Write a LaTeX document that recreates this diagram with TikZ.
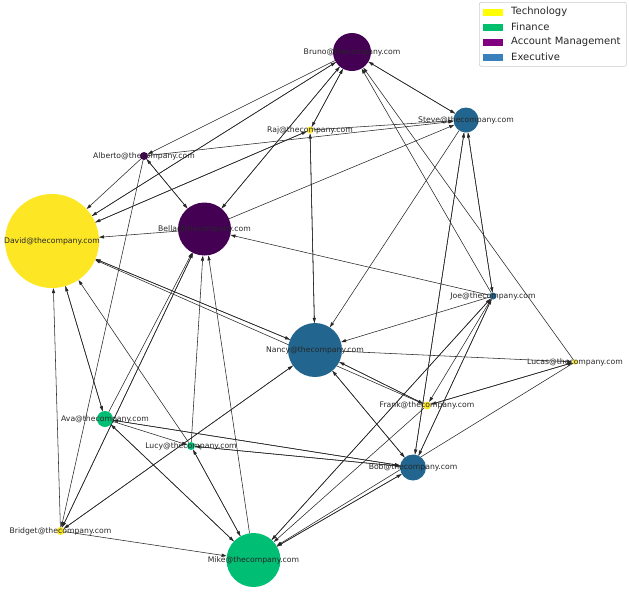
\documentclass[tikz,border=0pt]{standalone}
\usepackage{fontspec}
\newfontfamily\lblfont{DejaVu Sans}
\usetikzlibrary{arrows.meta}
\pgfdeclarelayer{bg}
\pgfsetlayers{bg,main}
\definecolor{techN}{HTML}{FDE725}
\definecolor{finN}{HTML}{00BE73}
\definecolor{acctN}{HTML}{440154}
\definecolor{execN}{HTML}{22668F}
\definecolor{techL}{HTML}{FFFF00}
\definecolor{finL}{HTML}{00BF6C}
\definecolor{acctL}{HTML}{800080}
\definecolor{execL}{HTML}{3A80BD}
\tikzset{
  vn/.style={circle, inner sep=0pt, draw=none, minimum size=#1},
  arr/.style={-{Triangle[length=5pt,width=3.2pt]}, line width=0.55pt, draw=black!85},
  lab/.style={font=\lblfont\fontsize{7.7}{9}\selectfont, text=black!85, inner sep=0pt},
  legtxt/.style={font=\lblfont\fontsize{10}{12}\selectfont, text=black!85, anchor=west, inner sep=0pt},
  legpatch/.style={minimum width=20pt, minimum height=7pt, inner sep=0pt, draw=none}
}
\begin{document}
\begin{tikzpicture}[x=1pt,y=-1pt]
\useasboundingbox (0,0) rectangle (629,595);
% nodes
\node[vn=94pt, fill=techN] (david) at (52,241) {};
\node[vn=38pt, fill=acctN] (bruno) at (352,52) {};
\node[vn=7pt, fill=techN] (raj) at (310,130) {};
\node[vn=25pt, fill=execN] (steve) at (466,120) {};
\node[vn=8pt, fill=acctN] (alberto) at (144,156) {};
\node[vn=53pt, fill=acctN] (bella) at (204.5,229) {};
\node[vn=7pt, fill=execN] (joe) at (493,296) {};
\node[vn=54pt, fill=execN] (nancy) at (315,350) {};
\node[vn=5pt, fill=techN] (lucas) at (575,362) {};
\node[vn=8pt, fill=techN] (frank) at (427,405.5) {};
\node[vn=16pt, fill=finN] (ava) at (105,419) {};
\node[vn=8pt, fill=finN] (lucy) at (191,446) {};
\node[vn=26pt, fill=execN] (bob) at (413,467.5) {};
\node[vn=8pt, fill=techN] (bridget) at (60.5,531) {};
\node[vn=54pt, fill=finN] (mike) at (253.5,560) {};
% edges
\begin{pgfonlayer}{bg}
\draw[arr] (bruno) -- (alberto);
\draw[arr] (david) -- (bruno);
\draw[arr] (bruno) -- (david);
\draw[arr] (bruno) -- (bella);
\draw[arr] (bella) -- (bruno);
\draw[arr] (bruno) -- (raj);
\draw[arr] (raj) -- (bruno);
\draw[arr] (bruno) -- (steve);
\draw[arr] (steve) -- (bruno);
\draw[arr] (joe) -- (bruno);
\draw[arr] (lucas) -- (bruno);
\draw[arr] (alberto) -- (steve);
\draw[arr] (alberto) -- (david);
\draw[arr] (alberto) -- (bella);
\draw[arr] (bella) -- (alberto);
\draw[arr] (alberto) -- (bridget);
\draw[arr] (raj) -- (david);
\draw[arr] (david) -- (raj);
\draw[arr] (raj) -- (steve);
\draw[arr] (raj) -- (nancy);
\draw[arr] (nancy) -- (raj);
\draw[arr] (bella) -- (david);
\draw[arr] (bella) -- (steve);
\draw[arr] (joe) -- (bella);
\draw[arr] (bridget) -- (david);
\draw[arr] (ava) -- (david);
\draw[arr] (david) -- (ava);
\draw[arr] (lucy) -- (david);
\draw[arr] (ava) -- (bella);
\draw[arr] (bridget) -- (bella);
\draw[arr] (bella) -- (bridget);
\draw[arr] (lucy) -- (bella);
\draw[arr] (mike) -- (bella);
\draw[arr] (steve) -- (nancy);
\draw[arr] (joe) -- (nancy);
\draw[arr] (nancy) -- (lucas);
\draw[arr] (nancy) -- (david);
\draw[arr] (david) -- (nancy);
\draw[arr] (frank) -- (david);
\draw[arr] (nancy) -- (frank);
\draw[arr] (frank) -- (nancy);
\draw[arr] (nancy) -- (bob);
\draw[arr] (bob) -- (nancy);
\draw[arr] (nancy) -- (bridget);
\draw[arr] (bridget) -- (nancy);
\draw[arr] (steve) -- (bob);
\draw[arr] (bob) -- (steve);
\draw[arr] (steve) -- (joe);
\draw[arr] (joe) -- (steve);
\draw[arr] (joe) -- (bob);
\draw[arr] (bob) -- (joe);
\draw[arr] (ava) -- (bob);
\draw[arr] (bob) -- (ava);
\draw[arr] (ava) -- (lucy);
\draw[arr] (lucy) -- (bob);
\draw[arr] (bob) -- (lucy);
\draw[arr] (ava) -- (mike);
\draw[arr] (mike) -- (ava);
\draw[arr] (lucy) -- (mike);
\draw[arr] (mike) -- (lucy);
\draw[arr] (bridget) -- (mike);
\draw[arr] (joe) -- (frank);
\draw[arr] (joe) -- (mike);
\draw[arr] (mike) -- (joe);
\draw[arr] (lucas) -- (frank);
\draw[arr] (frank) -- (lucas);
\draw[arr] (lucas) -- (mike);
\draw[arr] (frank) -- (mike);
\draw[arr] (bob) -- (mike);
\draw[arr] (mike) -- (bob);
\end{pgfonlayer}
% labels
\node[lab] (ldavid) at (david) {David@thecompany.com};
\node[lab] (lbruno) at (bruno) {Bruno@thecompany.com};
\node[lab] (lraj) at (raj) {Raj@thecompany.com};
\node[lab] (lsteve) at (steve) {Steve@thecompany.com};
\node[lab] (lalberto) at (alberto) {Alberto@thecompany.com};
\node[lab] (lbella) at (bella) {Bella@thecompany.com};
\node[lab] (ljoe) at (joe) {Joe@thecompany.com};
\node[lab] (lnancy) at (nancy) {Nancy@thecompany.com};
\node[lab] (llucas) at (lucas) {Lucas@thecompany.com};
\node[lab] (lfrank) at (frank) {Frank@thecompany.com};
\node[lab] (lava) at (ava) {Ava@thecompany.com};
\node[lab] (llucy) at (lucy) {Lucy@thecompany.com};
\node[lab] (lbob) at (bob) {Bob@thecompany.com};
\node[lab] (lbridget) at (bridget) {Bridget@thecompany.com};
\node[lab] (lmike) at (mike) {Mike@thecompany.com};
% legend
\node[draw=black!20, fill=white, rounded corners=2pt, line width=0.6pt, minimum width=147pt, minimum height=64pt, anchor=north west, inner sep=0pt] (legbox) at (479,2) {};
\node[legpatch, fill=techL] (p1) at (493,12) {};
\node[legpatch, fill=finL] (p2) at (493,27) {};
\node[legpatch, fill=acctL] (p3) at (493,42) {};
\node[legpatch, fill=execL] (p4) at (493,57) {};
\node[legtxt] (t1) at (511,12) {Technology};
\node[legtxt] (t2) at (511,27) {Finance};
\node[legtxt] (t3) at (511,42) {Account Management};
\node[legtxt] (t4) at (511,57) {Executive};
\end{tikzpicture}
\end{document}
